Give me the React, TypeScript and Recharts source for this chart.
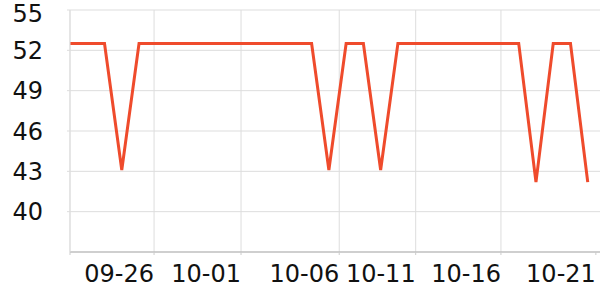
import { CartesianGrid, Line, LineChart, ReferenceLine, XAxis, YAxis } from "recharts"

// day offsets of each point and the measured value
const days = [0, 1, 2, 3, 4, 5, 6, 7, 8, 9, 10, 11, 12, 13, 14, 15, 16, 17, 18, 19, 20, 21, 22, 23, 24, 25, 26, 27, 28, 29, 30]
const values = [
  52.5, 52.5, 52.5, 43.1, 52.5, 52.5, 52.5, 52.5, 52.5, 52.5, 52.5, 52.5, 52.5, 52.5, 52.5, 43.1,
  52.5, 52.5, 43.1, 52.5, 52.5, 52.5, 52.5, 52.5, 52.5, 52.5, 52.5, 42.2, 52.5, 52.5, 42.2,
]

const yTicks = [40, 43, 46, 49, 52, 55]
// vertical grid positions (in days) and the labels that end at them
const gridDays = [0, 4.87, 9.91, 15.6, 20.03, 24.97]
const labelDays = [4.87, 9.91, 15.6, 20.03, 24.97, 30.47]
const tickLabels = ["09-26", "10-01", "10-06", "10-11", "10-16", "10-21"]

const data = days.map((d, i) => ({ day: d, value: values[i] }))
const xTicks = [0, ...labelDays]

const FONT = "'DejaVu Sans', sans-serif"

function XTick({ x, y, payload }: any) {
  const idx = labelDays.indexOf(payload.value)
  if (idx < 0) return null
  return (
    <text x={x} y={y} dy="0.71em" textAnchor="end" fontSize={24} fontFamily={FONT} fill="#111">
      {tickLabels[idx]}
    </text>
  )
}

function YTick({ x, y, payload }: any) {
  // top label sits a little lower so it stays inside the page
  const shift = payload.value === yTicks[yTicks.length - 1] ? 3 : 0
  return (
    <text x={x} y={y + shift} dy="0.355em" textAnchor="end" fontSize={24} fontFamily={FONT} fill="#111">
      {payload.value}
    </text>
  )
}

export default function App() {
  return (
    <div style={{ width: 600, height: 300 }}>
      <style>{"body{margin:0}"}</style>
      <LineChart width={600} height={300} data={data} margin={{ top: 10, right: 0, left: 0, bottom: 0 }}>
        <CartesianGrid vertical={false} stroke="#dddddd" />
        {gridDays.map((d) => (
          <ReferenceLine key={d} x={d} stroke="#dddddd" strokeWidth={1} ifOverflow="visible" />
        ))}
        <XAxis
          dataKey="day"
          type="number"
          domain={[0, 30.71]}
          ticks={xTicks}
          height={48}
          axisLine={{ stroke: "#b0b0b0" }}
          tickLine={{ stroke: "#cccccc" }}
          tickSize={3}
          tickMargin={10}
          tick={<XTick />}
          interval={0}
          allowDataOverflow
        />
        <YAxis
          domain={[37, 55]}
          ticks={yTicks}
          width={70}
          axisLine={{ stroke: "#dddddd" }}
          tickLine={{ stroke: "#dddddd" }}
          tickSize={3}
          tickMargin={24}
          tick={<YTick />}
          interval={0}
          allowDataOverflow
        />
        <Line
          type="linear"
          dataKey="value"
          stroke="#ef4b2c"
          strokeWidth={3}
          dot={false}
          activeDot={false}
          isAnimationActive={false}
        />
      </LineChart>
    </div>
  )
}
